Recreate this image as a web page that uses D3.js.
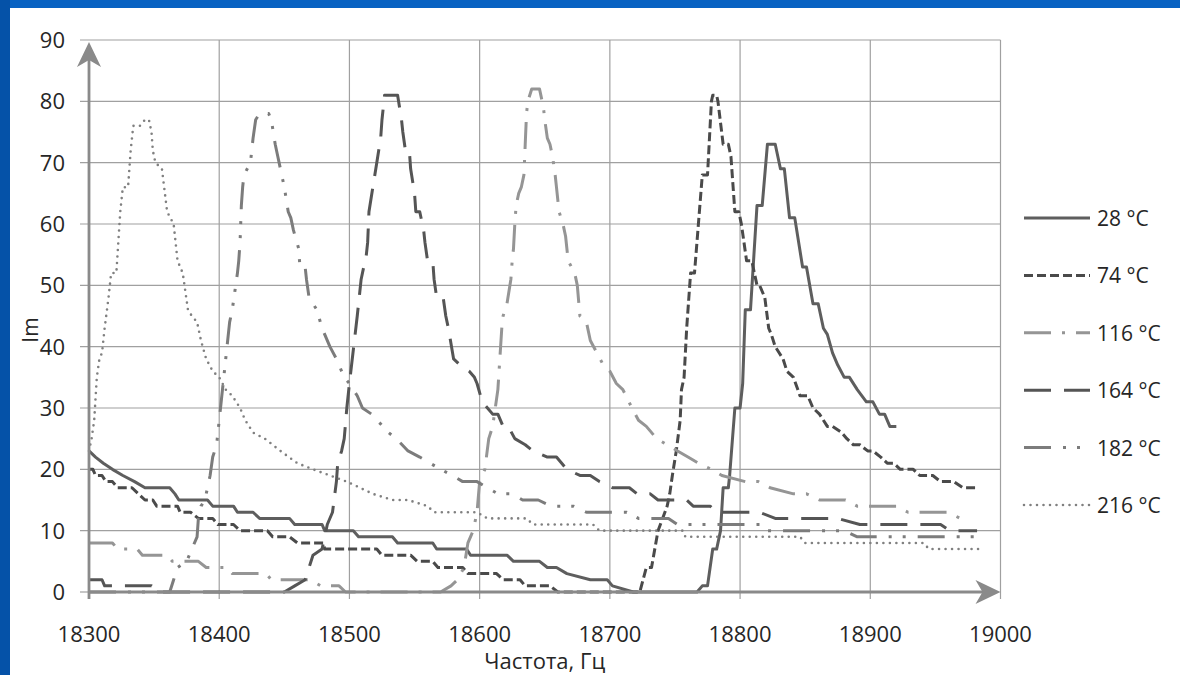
<!DOCTYPE html>
<html>
<head>
<meta charset="utf-8">
<script src="https://cdn.jsdelivr.net/npm/d3@7"></script>
<style>
  html, body { margin: 0; padding: 0; background: #0862c2; }
  svg { display: block; }
  text { font-family: "Open Sans", "Noto Sans", sans-serif; fill: #262626; }
</style>
</head>
<body>
<div id="chart"></div>
<script>
/** DATA */
const seriesNames = ["28 °C", "74 °C", "116 °C", "164 °C", "182 °C", "216 °C"];
const xTicks = [18300, 18400, 18500, 18600, 18700, 18800, 18900, 19000];
const yTicks = [0, 10, 20, 30, 40, 50, 60, 70, 80, 90];

// [frequency, Im]
const s28 = [[18300,23],[18305,22],[18311,21],[18318,20],[18326,19],[18335,18],[18343,17],[18362,17],[18366,16],[18369,15],[18391,15],[18395,14],[18411,14],[18414,13],[18426,13],[18431,12],[18454,12],[18458,11],[18479,11],[18481,10],[18503,10],[18507,9],[18533,9],[18537,8],[18564,8],[18567,7],[18590,7],[18593,6],[18621,6],[18626,5],[18646,5],[18652,4],[18659,4],[18667,3],[18685,2],[18698,2],[18702,1],[18718,0],[18767,0],[18771,1],[18775,1],[18779,7],[18782,7],[18785,10],[18787,17],[18791,17],[18792,19],[18796,30],[18800,30],[18802,34],[18804,46],[18808,46],[18813,63],[18817,63],[18821,73],[18827,73],[18831,69],[18834,69],[18838,61],[18842,61],[18848,53],[18851,53],[18856,47],[18860,47],[18864,43],[18867,42],[18871,39],[18875,37],[18880,35],[18884,35],[18890,33],[18897,31],[18902,31],[18907,29],[18911,29],[18915,27],[18920,27]];

const s74 = [[18300,20],[18303,20],[18305,19],[18310,19],[18313,18],[18318,18],[18322,17],[18333,17],[18338,16],[18343,15],[18349,15],[18352,14],[18368,14],[18370,13],[18378,13],[18384,12],[18395,12],[18399,11],[18411,11],[18416,10],[18437,10],[18441,9],[18454,9],[18460,8],[18480,8],[18481,7],[18521,7],[18525,6],[18547,6],[18552,5],[18564,5],[18568,4],[18587,4],[18591,3],[18613,3],[18618,2],[18631,2],[18635,1],[18654,1],[18660,0],[18723,0],[18728,4],[18732,4],[18737,10],[18744,14],[18746,16],[18748,19],[18751,23],[18754,28],[18755,33],[18757,35],[18759,43],[18762,52],[18765,52],[18771,68],[18775,68],[18778,80],[18779,81],[18782,81],[18783,80],[18787,73],[18791,73],[18793,71],[18796,62],[18799,62],[18801,60],[18805,54],[18809,54],[18813,50],[18815,50],[18819,48],[18822,43],[18824,42],[18827,40],[18830,39],[18833,38],[18836,36],[18841,35],[18846,32],[18852,32],[18856,30],[18861,29],[18867,27],[18871,27],[18878,26],[18882,25],[18887,24],[18892,24],[18898,23],[18902,23],[18908,22],[18913,21],[18918,21],[18923,20],[18933,20],[18938,19],[18948,19],[18954,18],[18964,18],[18971,17],[18983,17]];

const s116 = [[18300,8],[18318,8],[18322,7],[18337,7],[18341,6],[18360,6],[18364,5],[18384,5],[18390,4],[18406,4],[18410,3],[18436,3],[18440,2],[18470,2],[18478,1],[18492,1],[18497,0],[18570,0],[18578,1],[18583,2],[18588,4],[18591,8],[18595,10],[18598,13],[18600,18],[18604,20],[18607,25],[18610,27],[18612,30],[18614,33],[18617,43],[18618,45],[18621,47],[18624,51],[18625,54],[18626,56],[18627,60],[18628,63],[18630,65],[18632,66],[18634,68],[18635,73],[18636,78],[18637,80],[18640,82],[18646,82],[18649,79],[18650,77],[18652,74],[18654,73],[18656,71],[18658,68],[18659,66],[18661,62],[18664,60],[18666,58],[18668,54],[18673,52],[18675,50],[18677,45],[18682,44],[18685,41],[18690,39],[18695,37],[18700,36],[18705,34],[18710,33],[18717,30],[18722,28],[18728,27],[18736,25],[18744,24],[18752,23],[18760,22],[18768,21],[18778,20],[18786,19],[18804,18],[18814,18],[18823,17],[18841,16],[18851,16],[18861,15],[18881,15],[18890,14],[18920,14],[18929,13],[18960,13],[18969,12],[18975,12]];

const s164 = [[18300,2],[18310,2],[18312,1],[18348,1],[18355,0],[18450,0],[18458,1],[18466,2],[18472,6],[18479,7],[18483,11],[18487,13],[18490,18],[18491,21],[18494,23],[18496,25],[18498,30],[18500,34],[18506,45],[18508,49],[18509,51],[18511,53],[18513,55],[18514,57],[18515,62],[18518,66],[18521,70],[18524,74],[18525,77],[18527,81],[18535,81],[18537,81],[18540,77],[18541,75],[18543,72],[18546,72],[18547,69],[18550,65],[18551,62],[18554,62],[18557,59],[18558,57],[18560,54],[18564,54],[18565,51],[18567,48],[18572,48],[18574,45],[18576,43],[18580,38],[18585,37],[18592,36],[18596,35],[18598,34],[18602,31],[18610,29],[18614,29],[18618,27],[18622,27],[18627,25],[18635,24],[18641,23],[18652,22],[18659,22],[18667,20],[18677,19],[18685,19],[18692,18],[18702,17],[18715,17],[18721,16],[18731,16],[18737,15],[18759,15],[18764,14],[18777,14],[18782,13],[18815,13],[18827,12],[18864,12],[18875,12],[18892,11],[18954,11],[18961,10],[18982,10]];

const s182 = [[18300,0],[18362,0],[18365,2],[18368,4],[18375,5],[18383,9],[18384,12],[18386,14],[18389,15],[18393,19],[18395,22],[18398,24],[18401,30],[18408,44],[18410,46],[18414,52],[18415,54],[18416,57],[18417,63],[18418,66],[18419,68],[18424,70],[18426,74],[18428,77],[18431,78],[18438,78],[18440,77],[18443,73],[18445,71],[18447,69],[18450,66],[18453,62],[18455,61],[18457,59],[18461,56],[18462,53],[18466,53],[18467,51],[18469,48],[18475,46],[18479,43],[18485,40],[18490,38],[18496,35],[18500,34],[18506,32],[18510,30],[18517,29],[18530,26],[18536,25],[18545,23],[18554,22],[18562,21],[18570,20],[18579,19],[18587,18],[18598,18],[18606,17],[18614,16],[18625,16],[18633,15],[18645,15],[18655,14],[18672,14],[18682,13],[18713,13],[18722,12],[18745,12],[18752,11],[18815,11],[18820,10],[18880,10],[18890,9],[18988,9]];

const s216 = [[18300,23],[18302,25],[18304,28],[18306,35],[18308,38],[18310,39],[18312,43],[18315,48],[18317,52],[18321,52],[18324,62],[18326,66],[18330,66],[18332,72],[18334,76],[18339,76],[18343,77],[18346,77],[18348,75],[18349,72],[18351,70],[18356,69],[18360,62],[18365,60],[18368,54],[18372,52],[18376,46],[18379,45],[18383,44],[18386,41],[18390,38],[18395,36],[18400,35],[18405,33],[18410,32],[18416,30],[18420,28],[18426,26],[18435,25],[18447,23],[18460,21],[18472,20],[18485,19],[18498,18],[18508,17],[18518,16],[18533,15],[18545,15],[18560,14],[18565,13],[18598,13],[18606,12],[18636,12],[18641,11],[18687,11],[18692,10],[18756,10],[18758,9],[18846,9],[18850,8],[18941,8],[18945,7],[18987,7]];

const seriesData = [s28, s74, s116, s164, s182, s216];

/** STYLES */
const colors = ["#5e5e5e", "#4a4a4a", "#959595", "#555555", "#7c7c7c", "#808080"];
const dashes = ["none", "9 4", "27 11 3 11", "27 13", "27 12 3 11 3 12", "0 6.5"];
const widths = [3, 3, 3, 3, 3, 2.6];
const caps = ["butt", "butt", "butt", "butt", "butt", "round"];

/** CONSTANTS */
const width = 1180,
  height = 675,
  margin = { top: 40, bottom: 83, left: 89, right: 179.5 };

/** SCALES */
const xScale = d3.scaleLinear()
  .domain([18300, 19000])
  .range([margin.left, width - margin.right]);

const yScale = d3.scaleLinear()
  .domain([0, 90])
  .range([height - margin.bottom, margin.top]);

/** MAIN CODE */
const svg = d3.select("#chart")
  .append("svg")
  .attr("width", width)
  .attr("height", height);

// slide background + white panel
svg.append("rect").attr("width", width).attr("height", height).attr("fill", "#0862c2");
svg.append("rect").attr("x", 0).attr("y", 0).attr("width", 10).attr("height", height).attr("fill", "#0552a8");
svg.append("rect").attr("x", 10).attr("y", 8).attr("width", width - 10).attr("height", height - 8).attr("fill", "#ffffff");

const x0 = xScale(18300), x1 = xScale(19000);
const y0 = yScale(0), y1 = yScale(90);

// horizontal gridlines
svg.append("g")
  .selectAll("line")
  .data(yTicks.filter(d => d > 0))
  .join("line")
  .attr("x1", x0 - 9)
  .attr("x2", x1)
  .attr("y1", d => yScale(d))
  .attr("y2", d => yScale(d))
  .attr("stroke", "#a0a0a0")
  .attr("stroke-width", 1.2);

// vertical gridlines
svg.append("g")
  .selectAll("line")
  .data(xTicks.filter(d => d > 18300))
  .join("line")
  .attr("x1", d => xScale(d))
  .attr("x2", d => xScale(d))
  .attr("y1", y1)
  .attr("y2", y0 + 7)
  .attr("stroke", "#a0a0a0")
  .attr("stroke-width", 1.2);

// tick stubs on the axes
svg.append("line").attr("x1", x0 - 9).attr("x2", x0).attr("y1", y0).attr("y2", y0)
  .attr("stroke", "#a0a0a0").attr("stroke-width", 1.2);
svg.append("line").attr("x1", x0).attr("x2", x0).attr("y1", y0).attr("y2", y0 + 7)
  .attr("stroke", "#a0a0a0").attr("stroke-width", 1.2);

// tick labels
svg.append("g")
  .selectAll("text")
  .data(yTicks)
  .join("text")
  .attr("x", x0 - 24)
  .attr("y", d => yScale(d) + 8)
  .attr("text-anchor", "end")
  .attr("font-size", 22)
  .text(d => d);

svg.append("g")
  .selectAll("text")
  .data(xTicks)
  .join("text")
  .attr("x", d => xScale(d))
  .attr("y", y0 + 50)
  .attr("text-anchor", "middle")
  .attr("font-size", 22)
  .text(d => d);

// axis titles
svg.append("text")
  .attr("x", (x0 + x1) / 2)
  .attr("y", height - 6)
  .attr("text-anchor", "middle")
  .attr("font-size", 22)
  .text("Частота, Гц");

svg.append("text")
  .attr("transform", `translate(38, 330) rotate(-90)`)
  .attr("text-anchor", "middle")
  .attr("font-size", 21)
  .text("Im");

// series
const line = d3.line()
  .x(d => xScale(d[0]))
  .y(d => yScale(d[1]));

svg.append("g")
  .selectAll("path")
  .data(seriesData)
  .join("path")
  .attr("d", d => line(d))
  .attr("fill", "none")
  .attr("stroke", (d, i) => colors[i])
  .attr("stroke-width", (d, i) => widths[i])
  .attr("stroke-dasharray", (d, i) => dashes[i])
  .attr("stroke-linecap", (d, i) => caps[i])
  .attr("stroke-linejoin", "round");

// arrow axes
const axisColor = "#8a8a8a";
svg.append("line").attr("x1", x0).attr("x2", x1 - 12).attr("y1", y0).attr("y2", y0)
  .attr("stroke", axisColor).attr("stroke-width", 2.8);
svg.append("line").attr("x1", x0).attr("x2", x0).attr("y1", y0 + 7).attr("y2", y1 + 14)
  .attr("stroke", axisColor).attr("stroke-width", 2.8);

svg.append("path")
  .attr("d", `M${x1},${y0} L${x1 - 25},${y0 - 12} L${x1 - 18},${y0} L${x1 - 25},${y0 + 12} Z`)
  .attr("fill", axisColor);
svg.append("path")
  .attr("d", `M${x0},${y1 + 2} L${x0 - 12},${y1 + 27} L${x0},${y1 + 20} L${x0 + 12},${y1 + 27} Z`)
  .attr("fill", axisColor);

// legend
const legend = svg.append("g")
  .selectAll("g")
  .data(seriesNames)
  .join("g")
  .attr("transform", (d, i) => `translate(1024, ${218 + i * 57.4})`);

legend.append("line")
  .attr("x1", 0)
  .attr("x2", 66)
  .attr("stroke", (d, i) => colors[i])
  .attr("stroke-width", (d, i) => widths[i])
  .attr("stroke-dasharray", (d, i) => dashes[i])
  .attr("stroke-linecap", (d, i) => caps[i]);

legend.append("text")
  .attr("x", 73)
  .attr("y", 8)
  .attr("font-size", 21)
  .text(d => d);
</script>
</body>
</html>
